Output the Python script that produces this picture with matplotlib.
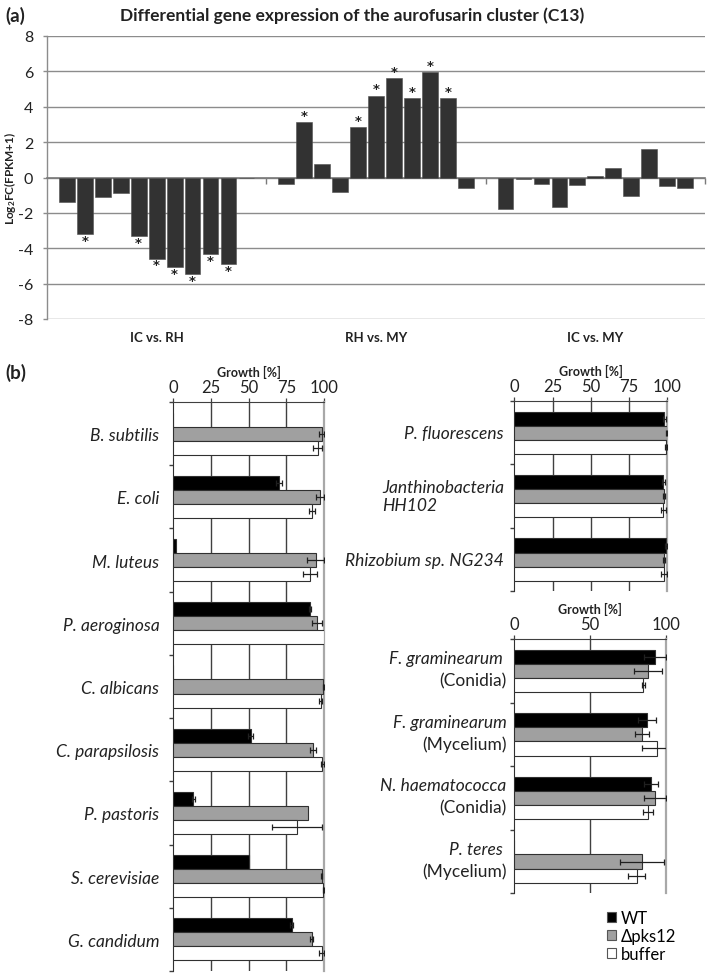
import matplotlib
matplotlib.use("Agg")
import matplotlib.pyplot as plt
from matplotlib.patches import Patch
from matplotlib.transforms import blended_transform_factory
import numpy as np

plt.rcParams['font.family'] = ['Lato', 'DejaVu Sans']
plt.rcParams['mathtext.default'] = 'regular'
plt.rcParams['axes.unicode_minus'] = False

# ---------------- data: panel (a) ----------------
comparisons = ["IC vs. RH", "RH vs. MY", "IC vs. MY"]
ic_vs_rh = [-1.41, -3.20, -1.11, -0.85, -3.31, -4.58, -5.07, -5.46, -4.33, -4.90, -0.05]
rh_vs_my = [-0.38, 3.11, 0.75, -0.81, 2.87, 4.63, 5.61, 4.48, 5.95, 4.48, -0.57]
ic_vs_my = [-1.76, -0.07, -0.34, -1.66, -0.43, 0.07, 0.55, -1.04, 1.61, -0.47, -0.57]
sig_ic_vs_rh = [0, 1, 0, 0, 1, 1, 1, 1, 1, 1, 0]
sig_rh_vs_my = [0, 1, 0, 0, 1, 1, 1, 1, 1, 1, 0]
sig_ic_vs_my = [0, 0, 0, 0, 0, 0, 0, 0, 0, 0, 0]
a_yticks = [-8, -6, -4, -2, 0, 2, 4, 6, 8]

# ---------------- data: panel (b) ----------------
strains = ["WT", "\u0394pks12", "buffer"]

left_species = ["B. subtilis", "E. coli", "M. luteus", "P. aeroginosa", "C. albicans",
                "C. parapsilosis", "P. pastoris", "S. cerevisiae", "G. candidum"]
left_wt = [0, 70.0, 1.5, 90.7, 0, 51.3, 13.3, 50.2, 78.5]
left_wt_err = [0, 2.0, 0, 0.5, 0, 1.5, 1.1, 0, 0.8]
left_pks = [98.5, 97.3, 94.5, 95.6, 99.6, 92.9, 89.6, 98.5, 92.0]
left_pks_err = [1.5, 2.7, 5.5, 3.4, 0.4, 2.0, 0, 0.5, 1.0]
left_buf = [95.8, 91.8, 90.7, 100.0, 97.8, 98.7, 81.9, 99.6, 98.5]
left_buf_err = [3.0, 2.0, 4.4, 0, 1.0, 1.0, 16.6, 0.3, 1.5]
left_xticks = [0, 25, 50, 75, 100]

rt_species = ["P. fluorescens", "Janthinobacteria\nHH102", "Rhizobium sp. NG234"]
rt_wt = [98.0, 97.4, 99.1]
rt_wt_err = [1.0, 1.0, 0.4]
rt_pks = [99.6, 98.0, 97.8]
rt_pks_err = [0.4, 0.7, 0.5]
rt_buf = [99.1, 97.4, 97.8]
rt_buf_err = [0.4, 1.5, 2.2]
rt_xticks = [0, 25, 50, 75, 100]

rb_species = ["F. graminearum ", "F. graminearum", "N. haematococca", "P. teres "]
rb_stage = ["(Conidia)", "(Mycelium)", "(Conidia)", "(Mycelium)"]
rb_wt = [92.7, 87.7, 89.9, 0]
rb_wt_err = [7.0, 6.0, 4.6, 0]
rb_pks = [88.1, 84.0, 92.7, 84.0]
rb_pks_err = [9.0, 4.5, 7.3, 14.5]
rb_buf = [85.0, 93.8, 88.1, 80.7]
rb_buf_err = [1.0, 9.9, 3.5, 5.5]
rb_xticks = [0, 50, 100]

W, H = 709, 978
fig = plt.figure(figsize=(W / 100, H / 100), dpi=100)
TXT = '#222222'


def fx(px):
    return px / W


def fy(py):
    return 1 - py / H


# ---------------- panel (a) ----------------
axa = fig.add_axes([fx(47), fy(320), fx(705) - fx(47), fy(37) - fy(320)])
groups = [ic_vs_rh, rh_vs_my, ic_vs_my]
sigs = [sig_ic_vs_rh, sig_rh_vs_my, sig_ic_vs_my]
gw = 12.22
n = len(ic_vs_rh)
off = (gw - (n - 1)) / 2
for g, (vals, sg) in enumerate(zip(groups, sigs)):
    xs = g * gw + off + np.arange(n)
    axa.bar(xs, vals, width=0.88, color='#323232', edgecolor='#505050', linewidth=0.4, zorder=3)
    for x, v, s in zip(xs, vals, sg):
        if s:
            yy = v + 0.38 if v > 0 else v - 0.35
            axa.text(x, yy, '*', ha='center', va='center', fontsize=9.5, fontweight='bold',
                     family='DejaVu Sans', color=TXT, zorder=4)

axa.set_xlim(0, 3 * gw)
axa.set_ylim(-8, 8)
axa.set_yticks(a_yticks)
axa.yaxis.grid(True, color='#8c8c8c', linewidth=1.0, zorder=0)
axa.set_axisbelow(True)
for s in ['top', 'right']:
    axa.spines[s].set_visible(False)
axa.spines['left'].set_color('#8c8c8c')
axa.spines['left'].set_linewidth(1.0)
axa.spines['bottom'].set_position(('data', 0))
axa.spines['bottom'].set_color('#7a7a7a')
axa.spines['bottom'].set_linewidth(1.2)
axa.set_xticks([gw, 2 * gw, 3 * gw])
axa.set_xticklabels([])
axa.tick_params(axis='x', direction='out', length=4, color='#7a7a7a', width=1)
axa.tick_params(axis='y', direction='out', length=3, color='#8c8c8c', width=1,
                labelsize=11.5, pad=7, labelcolor=TXT)
trans = blended_transform_factory(axa.transData, axa.transAxes)
for g, name in enumerate(comparisons):
    axa.text(g * gw + gw / 2, -0.062, name, transform=trans, ha='center', va='center',
             fontsize=9.5, fontweight='bold', color=TXT)
fig.text(fx(10), fy(178), 'Log$_2$FC(FPKM+1)', rotation=90, fontsize=8.5, fontweight='bold',
         ha='center', va='center', color=TXT)

fig.text(fx(5), fy(16), '(a)', fontsize=13.5, fontweight='bold', ha='left', va='center', color=TXT)
fig.text(fx(352), fy(16), 'Differential gene expression of the aurofusarin cluster (C13)',
         fontsize=12.5, fontweight='bold', ha='center', va='center', color=TXT)
fig.text(fx(5), fy(373), '(b)', fontsize=13.5, fontweight='bold', ha='left', va='center', color=TXT)

# ---------------- panel (b) helper ----------------
bh = 0.222
colors = ['#000000', '#a0a0a0', '#ffffff']


def growth_panel(rect, wt, wte, pks, pkse, buf, bufe, xticks, grid_at, labels=None):
    ax = fig.add_axes(rect)
    nn = len(wt)
    yc = np.arange(nn)
    series = [(wt, wte), (pks, pkse), (buf, bufe)]
    for k, (vals, errs) in enumerate(series):
        ys = yc + (k - 1) * bh
        ax.barh(ys, vals, height=bh, color=colors[k], edgecolor='#303030', linewidth=0.8, zorder=3)
        e = np.array(errs, dtype=float)
        v = np.array(vals, dtype=float)
        m = e > 0
        ax.errorbar(v[m], ys[m], xerr=e[m], fmt='none', ecolor='#202020', elinewidth=0.9,
                    capsize=2.2, capthick=0.9, zorder=4)
    ax.set_xlim(0, 100)
    ax.set_ylim(nn - 0.5, -0.5)
    for gx in grid_at:
        ax.axvline(gx, color='#404040', linewidth=1.0, zorder=1)
    ax.xaxis.tick_top()
    ax.xaxis.set_label_position('top')
    ax.set_xticks(xticks)
    ax.tick_params(axis='x', direction='out', length=3, width=0.9, color='#404040',
                   labelsize=12, pad=2, labelcolor=TXT)
    ax.set_xlabel('Growth [%]', fontsize=9, fontweight='bold', labelpad=2, color=TXT)
    ax.set_yticks(yc)
    if labels is not None:
        ax.set_yticklabels(labels, fontsize=12.5, style='italic', color=TXT)
    else:
        ax.set_yticklabels([])
    ax.tick_params(axis='y', which='major', length=0, pad=10)
    ax.set_yticks(np.arange(nn + 1) - 0.5, minor=True)
    ax.tick_params(axis='y', which='minor', direction='out', length=3, width=1.0, color='#404040')
    ax.spines['bottom'].set_visible(False)
    ax.spines['left'].set_color('#303030')
    ax.spines['top'].set_color('#404040')
    ax.spines['right'].set_color('#a8a8a8')
    ax.spines['right'].set_linewidth(1.6)
    return ax


axl = growth_panel([fx(173.3), fy(972), fx(324) - fx(173.3), fy(403) - fy(972)],
                   left_wt, left_wt_err, left_pks, left_pks_err, left_buf, left_buf_err,
                   left_xticks, [25, 50, 75], labels=left_species)

axrt = growth_panel([fx(514.3), fy(592.3), fx(667.3) - fx(514.3), fy(402) - fy(592.3)],
                    rt_wt, rt_wt_err, rt_pks, rt_pks_err, rt_buf, rt_buf_err,
                    rt_xticks, [25, 50, 75], labels=None)
trt = blended_transform_factory(axrt.transAxes, axrt.transData)
for i, lab in enumerate(rt_species):
    axrt.text(-0.068, i, lab, transform=trt, ha='right', va='center', multialignment='left',
              fontsize=12.5, style='italic', linespacing=1.2, color=TXT)

axrb = growth_panel([fx(514.3), fy(894.3), fx(666) - fx(514.3), fy(640) - fy(894.3)],
                    rb_wt, rb_wt_err, rb_pks, rb_pks_err, rb_buf, rb_buf_err,
                    rb_xticks, [50], labels=None)
trb = blended_transform_factory(axrb.transAxes, axrb.transData)
for i, (sp, st) in enumerate(zip(rb_species, rb_stage)):
    axrb.text(-0.05, i - 0.2, sp, transform=trb, ha='right', va='center',
              fontsize=12.5, style='italic', color=TXT)
    axrb.text(-0.05, i + 0.15, st, transform=trb, ha='right', va='center',
              fontsize=12.5, color=TXT)

handles = [Patch(facecolor=c, edgecolor='#555555', linewidth=0.8) for c in colors]
fig.legend(handles, strains, loc='upper left', bbox_to_anchor=(fx(607), fy(911)),
           frameon=False, fontsize=12, handlelength=0.55, handleheight=0.55,
           handletextpad=0.3, labelspacing=0.12, borderaxespad=0, borderpad=0)

fig.savefig('out.png', dpi=100)
